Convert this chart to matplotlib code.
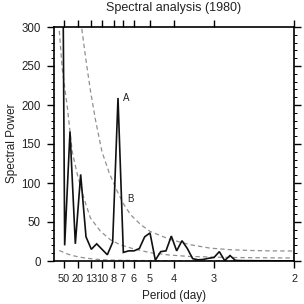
import matplotlib
matplotlib.use("Agg")
import matplotlib.pyplot as plt
import numpy as np

plt.rcParams.update({"font.family": ["Liberation Sans", "DejaVu Sans"]})

# spectrum sampled every 1/90 cycles per day (k = 1..45)
freq = np.arange(1, 46) / 90.0
power = [1100, 20, 166, 22, 111, 31, 15, 22, 15, 8,
         24, 209, 11, 13, 13, 16, 31, 36, 1, 12,
         13, 32, 13, 26, 16, 3, 1.5, 2, 3.5, 4.5,
         12, 0.5, 7, 0.8, 0.5, 0.4, 0.4, 0.3, 0.3, 0.3,
         0.2, 0.2, 0.2, 0.2, 0.2]

# dashed reference curves
upper_f = [0.050, 0.057, 0.066, 0.076, 0.087, 0.100, 0.115, 0.132, 0.146, 0.160,
           0.180, 0.200, 0.240, 0.283, 0.325, 0.367, 0.408, 0.450, 0.500]
upper_v = [345, 302, 260, 218, 179, 140, 113, 89, 72, 59,
           47, 38, 28, 21, 16.5, 14.5, 13.5, 13, 12.8]
middle_f = [0.0111, 0.017, 0.028, 0.038, 0.049, 0.0625, 0.076, 0.097, 0.118, 0.139,
            0.167, 0.200, 0.240, 0.283, 0.367, 0.500]
middle_v = [295, 247, 196, 140, 110, 80, 55, 38, 27, 20.5,
            15.4, 10.7, 7.7, 5.8, 4.5, 3.8]
lower_f = [0.0111, 0.020, 0.030, 0.042, 0.055, 0.069, 0.085, 0.104, 0.130, 0.170,
           0.250, 0.500]
lower_v = [13.5, 11, 8.5, 6.5, 4.8, 3.5, 2.4, 1.5, 1.0, 0.6, 0.35, 0.18]

periods = [50, 20, 13, 10, 8, 7, 6, 5, 4, 3, 2]

fig = plt.figure(figsize=(3.04, 3.04), dpi=100)
ax = fig.add_axes([54 / 304, 43 / 304, 240 / 304, 234 / 304])

dash_kw = dict(color="#909090", linewidth=0.9, dashes=(3.5, 2.5))
ax.plot(upper_f, upper_v, **dash_kw)
ax.plot(middle_f, middle_v, **dash_kw)
ax.plot(lower_f, lower_v, **dash_kw)
ax.plot(freq, power, color="#111111", linewidth=1.2, solid_joinstyle="miter")

ax.text(0.1445, 209, "A", fontsize=7, va="center", ha="left", color="#222222")
ax.text(0.152, 79, "B", fontsize=7, va="center", ha="left", color="#222222")

ax.set_xlim(0, 0.5)
ax.set_ylim(0, 300)
ax.set_xticks([1.0 / p for p in periods])
ax.set_xticklabels([str(p) for p in periods])
ax.set_yticks(np.arange(0, 301, 50))
ax.set_yticks(np.arange(0, 301, 10), minor=True)

ax.tick_params(axis="both", which="major", direction="out", length=5, width=1.0,
               labelsize=8.3, labelcolor="#222222", top=True, right=True)
ax.tick_params(axis="x", which="major", labelsize=7.9, pad=4)
ax.tick_params(axis="y", which="minor", direction="out", length=2.5, width=0.7,
               right=True)
ax.tick_params(axis="y", which="major", pad=4.5)
for s in ax.spines.values():
    s.set_linewidth(1.2)

fig.text(174 / 304, 1 - 8.5 / 304, "Spectral analysis (1980)", fontsize=9,
         ha="center", va="center", color="#222222")
fig.text(174 / 304, 1 - 296.5 / 304, "Period (day)", fontsize=8.5,
         ha="center", va="center", color="#222222")
fig.text(12 / 304, 1 - 143 / 304, "Spectral Power", fontsize=8.5,
         ha="center", va="center", rotation=90, color="#222222")

fig.savefig("out.png", dpi=100)
